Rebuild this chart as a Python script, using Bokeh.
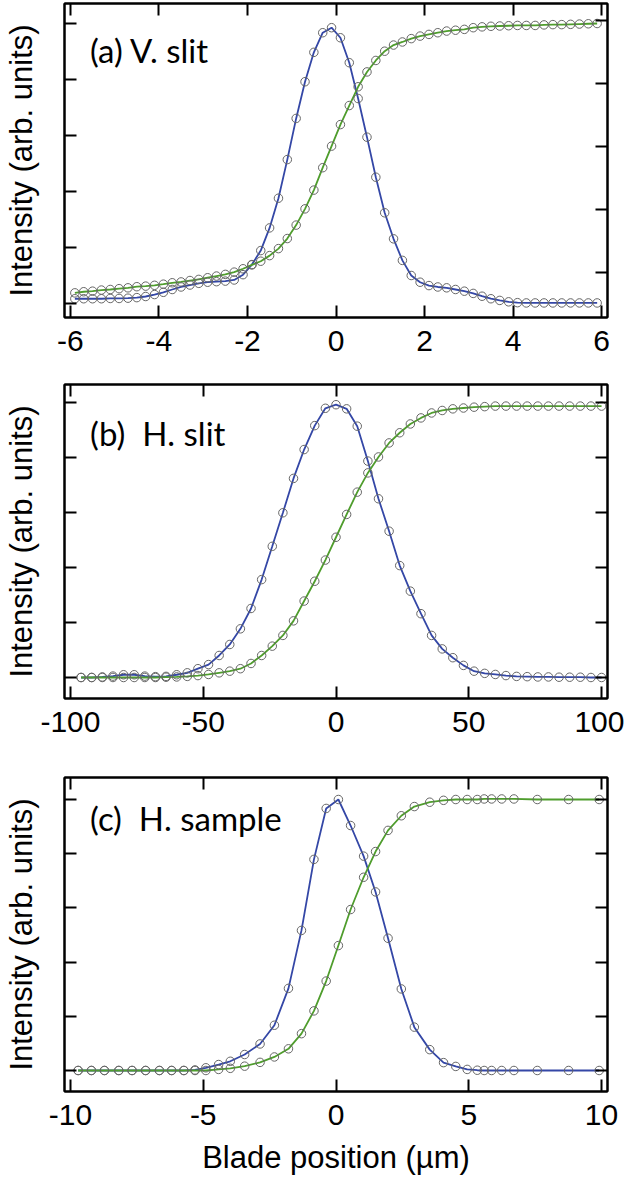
from bokeh.plotting import figure
from bokeh.models import Range1d, LinearAxis, FixedTicker, Label
from bokeh.layouts import column
from bokeh.embed import file_html
from bokeh.resources import INLINE

# ---------------- data ----------------
# (a) V. slit
xa = [-5.9, -5.7, -5.5, -5.3, -5.1, -4.9, -4.7, -4.5, -4.3, -4.1,
      -3.9, -3.7, -3.5, -3.3, -3.1, -2.9, -2.7, -2.5, -2.3, -2.1,
      -1.9, -1.7, -1.5, -1.3, -1.1, -0.9, -0.7, -0.5, -0.3, -0.1,
      0.1, 0.3, 0.5, 0.7, 0.9, 1.1, 1.3, 1.5, 1.7, 1.9,
      2.1, 2.3, 2.5, 2.7, 2.9, 3.1, 3.3, 3.5, 3.7, 3.9,
      4.1, 4.3, 4.5, 4.7, 4.9, 5.1, 5.3, 5.5, 5.7, 5.9]
blue_a = [0.017, 0.017, 0.017, 0.017, 0.018, 0.018, 0.019, 0.021, 0.025, 0.032,
          0.040, 0.050, 0.059, 0.066, 0.072, 0.076, 0.078, 0.080, 0.084, 0.103,
          0.139, 0.189, 0.270, 0.376, 0.514, 0.661, 0.792, 0.897, 0.967, 0.985,
          0.949, 0.860, 0.732, 0.594, 0.451, 0.324, 0.231, 0.154, 0.100, 0.076,
          0.064, 0.059, 0.056, 0.050, 0.044, 0.036, 0.026, 0.017, 0.011, 0.006,
          0.003, 0.002, 0.002, 0.002, 0.002, 0.002, 0.002, 0.002, 0.002, 0.002]
green_a = [0.038, 0.042, 0.044, 0.048, 0.050, 0.053, 0.056, 0.060, 0.062, 0.065,
           0.069, 0.074, 0.077, 0.082, 0.086, 0.092, 0.098, 0.104, 0.112, 0.124,
           0.138, 0.151, 0.171, 0.196, 0.232, 0.280, 0.338, 0.405, 0.485, 0.562,
           0.639, 0.707, 0.774, 0.827, 0.868, 0.901, 0.923, 0.934, 0.946, 0.955,
           0.961, 0.967, 0.973, 0.976, 0.979, 0.985, 0.988, 0.990, 0.991, 0.992,
           0.993, 0.993, 0.993, 0.995, 0.996, 0.996, 0.997, 0.998, 0.999, 1.000]

# (b) H. slit
xb = [-96, -92, -88, -84, -80, -76, -72, -68, -64, -60,
      -56, -52, -48, -44, -40, -36, -32, -28, -24, -20,
      -16, -12, -8, -4, 0, 4, 8, 12, 16, 20,
      24, 28, 32, 36, 40, 44, 48, 52, 56, 60,
      64, 68, 72, 76, 80, 84, 88, 92, 96, 100]
blue_b = [0.000, 0.000, 0.002, 0.005, 0.010, 0.010, 0.005, 0.003, 0.004, 0.010,
          0.017, 0.032, 0.047, 0.080, 0.120, 0.177, 0.251, 0.356, 0.477, 0.599,
          0.724, 0.829, 0.916, 0.979, 0.992, 0.977, 0.914, 0.787, 0.650, 0.532,
          0.407, 0.314, 0.232, 0.153, 0.104, 0.072, 0.044, 0.023, 0.015, 0.011,
          0.007, 0.004, 0.003, 0.002, 0.002, 0.001, 0.001, 0.001, 0.000, 0.000]
green_b = [0.000, 0.000, 0.000, 0.000, 0.000, 0.000, 0.000, 0.000, 0.001, 0.002,
           0.004, 0.007, 0.011, 0.017, 0.023, 0.032, 0.051, 0.080, 0.114, 0.153,
           0.206, 0.278, 0.350, 0.427, 0.510, 0.593, 0.674, 0.744, 0.802, 0.853,
           0.890, 0.922, 0.944, 0.962, 0.971, 0.977, 0.980, 0.983, 0.985, 0.987,
           0.987, 0.987, 0.987, 0.987, 0.987, 0.987, 0.987, 0.987, 0.987, 0.987]

# (c) H. sample
xc = [-9.71, -9.21, -8.72, -8.18, -7.68, -7.17, -6.65, -6.19, -5.73, -5.31,
      -4.90, -4.42, -3.98, -3.44, -2.86, -2.32, -1.79, -1.30, -0.83, -0.37,
      0.09, 0.55, 1.04, 1.49, 1.96, 2.46, 2.95, 3.53, 4.05, 4.51,
      4.94, 5.32, 5.58, 5.86, 6.24, 6.70, 7.58, 8.76, 9.91]
blue_c = [0.000, 0.000, 0.000, 0.000, 0.000, 0.000, 0.000, 0.000, 0.000, 0.002,
          0.010, 0.022, 0.034, 0.059, 0.098, 0.167, 0.303, 0.517, 0.779, 0.967,
          1.000, 0.904, 0.791, 0.659, 0.488, 0.301, 0.160, 0.077, 0.029, 0.015,
          0.004, 0.001, 0.000, 0.000, 0.000, 0.000, 0.000, 0.000, 0.000]
green_c = [0.000, 0.000, 0.000, 0.000, 0.000, 0.000, 0.000, 0.000, 0.000, 0.000,
           0.000, 0.004, 0.008, 0.016, 0.030, 0.050, 0.080, 0.136, 0.220, 0.330,
           0.461, 0.594, 0.713, 0.808, 0.886, 0.940, 0.974, 0.990, 0.997, 1.000,
           1.000, 1.000, 1.002, 1.002, 1.002, 1.002, 1.000, 1.000, 1.000]

xticks_a = [-6, -4, -2, 0, 2, 4, 6]
xticks_b = [-100, -50, 0, 50, 100]
xticks_c = [-10, -5, 0, 5, 10]
yticks = [0, 0.2, 0.4, 0.6, 0.8, 1.0]
yticks_right_a = [0.2, 0.4, 0.6, 0.8, 1.0]

# non-breaking spaces keep the double gap of the original labels
panel_labels = ["(a) V. slit", "(b)\u00a0 H. slit", "(c)\u00a0 H. sample"]
y_title = "Intensity (arb. units)"
x_title = "Blade position (\u00b5m)"

BLUE = "#3447a6"
GREEN = "#4f9d2d"
MARK = "#666666"
TICK_FONT = "Liberation Sans"


def style_axis(ax, ticks, show_labels):
    ax.ticker = FixedTicker(ticks=ticks)
    ax.major_tick_in = 12
    ax.major_tick_out = 0
    ax.minor_tick_line_color = None
    ax.major_tick_line_color = "black"
    ax.major_tick_line_width = 2
    ax.axis_line_color = "black"
    ax.axis_line_width = 2
    if show_labels:
        ax.major_label_text_font = TICK_FONT
        ax.major_label_text_font_size = "30px"
        ax.major_label_text_color = "black"
        ax.major_label_standoff = 13
        ax.major_label_overrides = {t: str(t) for t in ticks}
    else:
        ax.major_label_text_font_size = "1px"
        ax.major_label_text_color = None
        ax.major_label_standoff = 0


def make_panel(xs, blue, green, xr, yr, xticks, label, lx, ly, height, btop, bbottom,
               xlabel=None, right_range=None, right_ticks=None):
    p = figure(width=624, height=height, x_range=Range1d(*xr), y_range=Range1d(*yr),
               output_backend="svg", toolbar_location=None,
               min_border_left=59, min_border_right=17,
               min_border_top=btop, min_border_bottom=bbottom)
    p.grid.visible = False
    p.outline_line_color = "black"
    p.outline_line_width = 2
    p.outline_line_alpha = 1.0

    style_axis(p.xaxis[0], xticks, True)
    style_axis(p.yaxis[0], yticks, False)
    p.yaxis[0].axis_label = y_title
    p.yaxis[0].axis_label_text_font = TICK_FONT
    p.yaxis[0].axis_label_text_font_size = "31px"
    p.yaxis[0].axis_label_text_font_style = "normal"
    p.yaxis[0].axis_label_text_color = "black"
    p.yaxis[0].axis_label_standoff = 26

    if xlabel:
        p.xaxis[0].axis_label = xlabel
        p.xaxis[0].axis_label_text_font = TICK_FONT
        p.xaxis[0].axis_label_text_font_size = "31px"
        p.xaxis[0].axis_label_text_font_style = "normal"
        p.xaxis[0].axis_label_text_color = "black"
        p.xaxis[0].axis_label_standoff = 12

    top = LinearAxis()
    style_axis(top, xticks, False)
    p.add_layout(top, "above")

    if right_range is not None:
        p.extra_y_ranges = {"r": Range1d(*right_range)}
        right = LinearAxis(y_range_name="r")
        style_axis(right, right_ticks, False)
    else:
        right = LinearAxis()
        style_axis(right, yticks, False)
    p.add_layout(right, "right")

    p.line(xs, blue, line_color=BLUE, line_width=1.8)
    p.line(xs, green, line_color=GREEN, line_width=1.8)
    p.scatter(xs, blue, marker="circle", size=8.5, fill_color=None,
              line_color=MARK, line_width=1)
    p.scatter(xs, green, marker="circle", size=8.5, fill_color=None,
              line_color=MARK, line_width=1)

    p.add_layout(Label(x=lx, y=ly, text=label, text_font="Lato",
                       text_font_size="33px", text_color="black",
                       text_baseline="middle", text_align="left"))
    return p


p1 = make_panel(xa, blue_a, green_a, (-6.134, 6.134), (-0.05, 1.0714), xticks_a,
                panel_labels[0], -5.56, 0.905, 381, 10, 57,
                right_range=(0.057, 1.054), right_ticks=yticks_right_a)
p2 = make_panel(xb, blue_b, green_b, (-102.24, 102.24), (-0.0764, 1.0655), xticks_b,
                panel_labels[1], -92.6, 0.89, 393, 10, 69)
p3 = make_panel(xc, blue_c, green_c, (-10.224, 10.224), (-0.0775, 1.0812), xticks_c,
                panel_labels[2], -9.26, 0.93, 424, 10, 100, xlabel=x_title)

layout = column(p1, p2, p3, margin=(-7, 0, -25, 0))

open("out.html", "w").write(file_html(layout, INLINE))
